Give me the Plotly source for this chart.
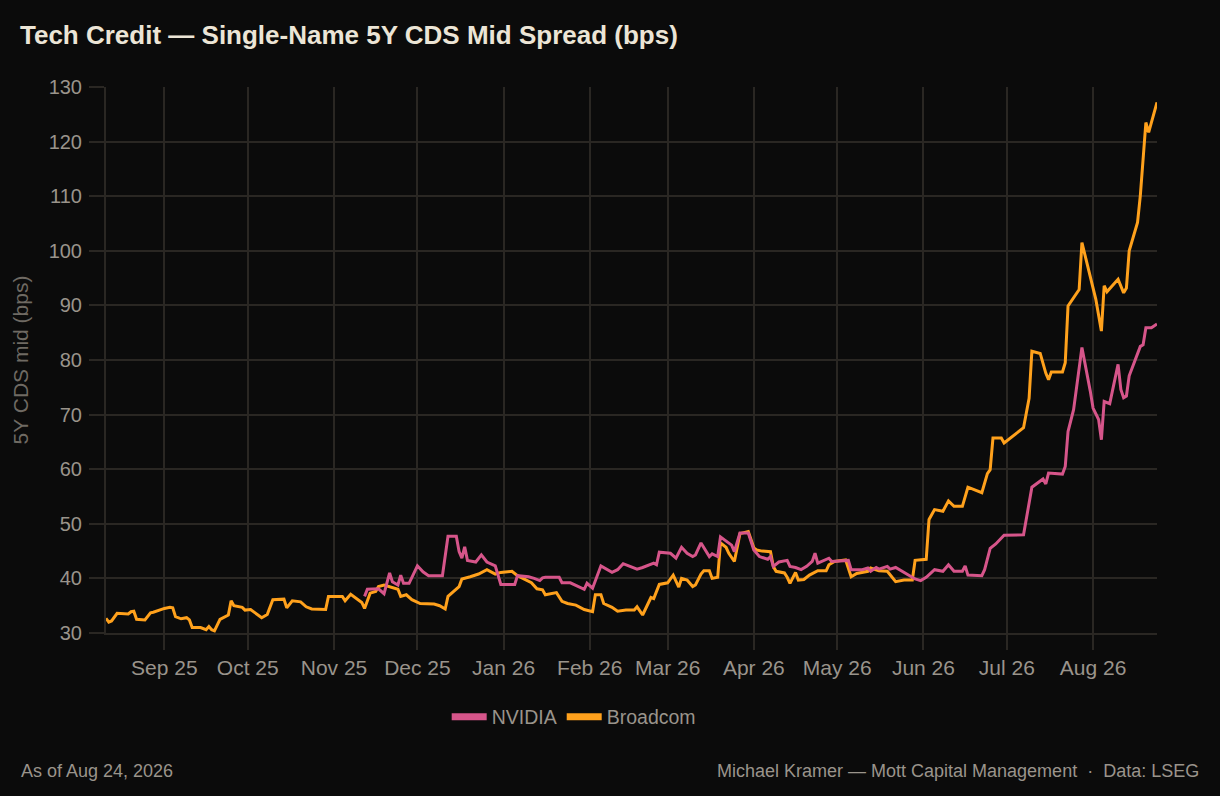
import plotly.graph_objects as go

# Broadcom 5Y CDS mid (bps)
avgo_dates = [
    "2025-08-11", "2025-08-12", "2025-08-13", "2025-08-15", "2025-08-19", "2025-08-20", "2025-08-21",
    "2025-08-22", "2025-08-25", "2025-08-26", "2025-08-27", "2025-08-28", "2025-08-30", "2025-09-01",
    "2025-09-03", "2025-09-04", "2025-09-05", "2025-09-07", "2025-09-09", "2025-09-10", "2025-09-11",
    "2025-09-14", "2025-09-16", "2025-09-17", "2025-09-18", "2025-09-19", "2025-09-21", "2025-09-23",
    "2025-09-24", "2025-09-25", "2025-09-26", "2025-09-29", "2025-09-30", "2025-10-02", "2025-10-04",
    "2025-10-06", "2025-10-08", "2025-10-10", "2025-10-14", "2025-10-15", "2025-10-17", "2025-10-20",
    "2025-10-22", "2025-10-24", "2025-10-29", "2025-10-30", "2025-11-04", "2025-11-05", "2025-11-07",
    "2025-11-09", "2025-11-11", "2025-11-12", "2025-11-14", "2025-11-16", "2025-11-17", "2025-11-19",
    "2025-11-21", "2025-11-24", "2025-11-25", "2025-11-27", "2025-11-29", "2025-12-02", "2025-12-07",
    "2025-12-09", "2025-12-11", "2025-12-12", "2025-12-16", "2025-12-17", "2025-12-20", "2025-12-23",
    "2025-12-26", "2025-12-29", "2025-12-31", "2026-01-04", "2026-01-06", "2026-01-09", "2026-01-11",
    "2026-01-13", "2026-01-15", "2026-01-16", "2026-01-20", "2026-01-22", "2026-01-24", "2026-01-27",
    "2026-01-30", "2026-02-02", "2026-02-03", "2026-02-05", "2026-02-06", "2026-02-09", "2026-02-11",
    "2026-02-14", "2026-02-17", "2026-02-18", "2026-02-20", "2026-02-23", "2026-02-24", "2026-02-26",
    "2026-03-01", "2026-03-03", "2026-03-05", "2026-03-06", "2026-03-08", "2026-03-10", "2026-03-11",
    "2026-03-13", "2026-03-14", "2026-03-16", "2026-03-17", "2026-03-19", "2026-03-20", "2026-03-22",
    "2026-03-23", "2026-03-25", "2026-03-27", "2026-03-30", "2026-04-01", "2026-04-02", "2026-04-04",
    "2026-04-07", "2026-04-08", "2026-04-09", "2026-04-12", "2026-04-13", "2026-04-14", "2026-04-16",
    "2026-04-17", "2026-04-19", "2026-04-21", "2026-04-24", "2026-04-27", "2026-04-28", "2026-04-30",
    "2026-05-04", "2026-05-06", "2026-05-08", "2026-05-12", "2026-05-13", "2026-05-16", "2026-05-19",
    "2026-05-22", "2026-05-25", "2026-05-28", "2026-05-29", "2026-06-01", "2026-06-02", "2026-06-03",
    "2026-06-05", "2026-06-08", "2026-06-10", "2026-06-12", "2026-06-15", "2026-06-17", "2026-06-22",
    "2026-06-24", "2026-06-25", "2026-06-26", "2026-06-29", "2026-06-30", "2026-07-07", "2026-07-09",
    "2026-07-10", "2026-07-13", "2026-07-15", "2026-07-16", "2026-07-17", "2026-07-21", "2026-07-22",
    "2026-07-23", "2026-07-27", "2026-07-28", "2026-07-30", "2026-08-02", "2026-08-04", "2026-08-05",
    "2026-08-06", "2026-08-10", "2026-08-12", "2026-08-13", "2026-08-14", "2026-08-17", "2026-08-18",
    "2026-08-20", "2026-08-21", "2026-08-24",
]
avgo_bps = [
    32.7, 32.0, 32.2, 33.6, 33.5, 33.9, 34.0,
    32.5, 32.4, 33.1, 33.7, 33.8, 34.2, 34.5,
    34.7, 34.6, 33.0, 32.6, 32.8, 32.4, 31.0,
    31.0, 30.6, 31.2, 30.6, 30.4, 32.5, 33.1,
    33.3, 35.9, 35.0, 34.7, 34.2, 34.3, 33.5,
    32.8, 33.4, 36.1, 36.2, 34.6, 35.9, 35.7,
    34.8, 34.4, 34.3, 36.7, 36.7, 35.9, 37.1,
    36.3, 35.6, 34.5, 37.3, 37.6, 38.5, 38.8,
    38.5, 38.0, 36.7, 37.0, 36.1, 35.4, 35.3,
    35.0, 34.4, 36.7, 38.5, 39.9, 40.3, 40.8,
    41.6, 40.8, 41.1, 41.3, 40.5, 39.7, 39.2,
    38.1, 37.9, 37.0, 37.4, 35.8, 35.4, 35.1,
    34.3, 33.9, 37.0, 37.0, 35.4, 34.7, 34.0,
    34.2, 34.2, 34.8, 33.3, 36.5, 36.3, 38.9,
    39.2, 40.6, 38.4, 40.0, 39.7, 38.5, 38.8,
    40.8, 41.4, 41.4, 40.0, 40.2, 46.5, 45.7,
    44.6, 43.1, 48.2, 48.6, 45.6, 45.2, 45.0,
    44.9, 42.2, 41.3, 41.0, 40.2, 39.1, 41.1,
    39.7, 39.8, 40.6, 41.4, 41.4, 42.5, 43.1,
    43.4, 40.3, 40.9, 41.3, 41.9, 41.4, 41.3,
    39.4, 39.7, 39.7, 43.3, 43.4, 43.5, 50.8,
    52.6, 52.3, 54.2, 53.2, 53.2, 56.7, 55.7,
    59.2, 59.9, 65.7, 65.7, 64.8, 67.6, 73.0,
    81.6, 81.2, 77.6, 76.4, 77.8, 77.8, 79.5,
    89.9, 92.9, 101.5, 97.2, 91.1, 85.3, 93.6,
    92.5, 94.8, 92.3, 93.2, 100.0, 105.2, 110.1,
    123.5, 121.7, 127.2,
]

# NVIDIA 5Y CDS mid (bps)
nvda_dates = [
    "2025-11-12", "2025-11-13", "2025-11-17", "2025-11-19", "2025-11-21", "2025-11-22", "2025-11-24",
    "2025-11-25", "2025-11-26", "2025-11-28", "2025-12-01", "2025-12-03", "2025-12-05", "2025-12-10",
    "2025-12-12", "2025-12-15", "2025-12-16", "2025-12-17", "2025-12-18", "2025-12-19", "2025-12-22",
    "2025-12-24", "2025-12-26", "2025-12-29", "2025-12-31", "2026-01-05", "2026-01-06", "2026-01-10",
    "2026-01-12", "2026-01-14", "2026-01-15", "2026-01-16", "2026-01-21", "2026-01-22", "2026-01-25",
    "2026-01-28", "2026-01-30", "2026-01-31", "2026-02-02", "2026-02-05", "2026-02-07", "2026-02-09",
    "2026-02-11", "2026-02-13", "2026-02-15", "2026-02-18", "2026-02-20", "2026-02-24", "2026-02-25",
    "2026-02-26", "2026-03-02", "2026-03-04", "2026-03-06", "2026-03-08", "2026-03-10", "2026-03-11",
    "2026-03-13", "2026-03-16", "2026-03-17", "2026-03-19", "2026-03-20", "2026-03-24", "2026-03-25",
    "2026-03-27", "2026-03-30", "2026-04-01", "2026-04-03", "2026-04-06", "2026-04-07", "2026-04-08",
    "2026-04-10", "2026-04-13", "2026-04-14", "2026-04-16", "2026-04-18", "2026-04-20", "2026-04-22",
    "2026-04-23", "2026-04-24", "2026-04-26", "2026-04-28", "2026-04-29", "2026-05-05", "2026-05-06",
    "2026-05-10", "2026-05-12", "2026-05-13", "2026-05-15", "2026-05-16", "2026-05-19", "2026-05-20",
    "2026-05-22", "2026-05-24", "2026-05-27", "2026-05-29", "2026-05-31", "2026-06-02", "2026-06-05",
    "2026-06-08", "2026-06-10", "2026-06-12", "2026-06-15", "2026-06-16", "2026-06-17", "2026-06-22",
    "2026-06-23", "2026-06-25", "2026-06-27", "2026-06-28", "2026-06-30", "2026-07-07", "2026-07-08",
    "2026-07-10", "2026-07-14", "2026-07-15", "2026-07-16", "2026-07-21", "2026-07-22", "2026-07-23",
    "2026-07-25", "2026-07-27", "2026-07-28", "2026-07-31", "2026-08-01", "2026-08-03", "2026-08-04",
    "2026-08-05", "2026-08-07", "2026-08-10", "2026-08-11", "2026-08-12", "2026-08-13", "2026-08-14",
    "2026-08-17", "2026-08-18", "2026-08-19", "2026-08-20", "2026-08-22", "2026-08-24",
]
nvda_bps = [
    36.7, 38.0, 38.1, 37.2, 41.0, 39.4, 38.8,
    40.6, 39.1, 39.1, 42.3, 41.2, 40.5, 40.5,
    47.7, 47.7, 44.9, 43.7, 45.8, 43.3, 43.0,
    44.3, 43.0, 42.3, 38.9, 38.9, 40.5, 40.3,
    40.0, 39.6, 40.1, 40.2, 40.2, 39.2, 39.2,
    38.5, 38.0, 39.1, 38.2, 42.3, 41.7, 41.1,
    41.6, 42.7, 42.3, 41.7, 42.0, 42.8, 42.5,
    44.8, 44.6, 43.7, 45.7, 44.6, 44.0, 44.3,
    46.5, 44.0, 44.5, 44.0, 47.6, 46.1, 44.9,
    48.3, 48.3, 45.2, 44.0, 43.5, 44.0, 42.2,
    43.0, 43.3, 42.2, 42.0, 41.6, 42.2, 43.1,
    44.6, 42.8, 43.2, 43.7, 43.1, 43.3, 41.6,
    41.6, 41.9, 41.3, 42.0, 41.7, 42.2, 41.7,
    42.0, 41.4, 40.6, 39.9, 39.6, 40.2, 41.6,
    41.3, 42.5, 41.3, 41.3, 42.3, 40.6, 40.5,
    41.6, 45.5, 46.3, 46.9, 47.9, 48.0, 50.7,
    56.7, 58.2, 57.3, 59.3, 59.1, 60.5, 66.9,
    70.9, 78.5, 82.3, 74.3, 71.2, 69.1, 65.4,
    72.4, 72.0, 79.2, 74.6, 73.1, 73.4, 77.1,
    81.3, 82.5, 82.8, 85.9, 85.9, 86.6,
]

y_ticks = [30, 40, 50, 60, 70, 80, 90, 100, 110, 120, 130]

bg = "#0b0b0b"
grid = "#2a2723"
muted = "#9a948b"
nvda_color = "#d6558a"
avgo_color = "#ffa11c"
font = "'Liberation Sans', Arial, sans-serif"

fig = go.Figure()
# Broadcom drawn first so NVIDIA sits on top where they overlap
fig.add_trace(go.Scatter(x=avgo_dates, y=avgo_bps, name="Broadcom", mode="lines",
                         line=dict(color=avgo_color, width=3), showlegend=False))
fig.add_trace(go.Scatter(x=nvda_dates, y=nvda_bps, name="NVIDIA", mode="lines",
                         line=dict(color=nvda_color, width=3), showlegend=False))
# legend keys (thick swatches like the original)
fig.add_trace(go.Scatter(x=[None], y=[None], name="NVIDIA", mode="lines",
                         line=dict(color=nvda_color, width=7)))
fig.add_trace(go.Scatter(x=[None], y=[None], name="Broadcom", mode="lines",
                         line=dict(color=avgo_color, width=7)))

fig.update_layout(
    width=1220, height=796,
    paper_bgcolor=bg, plot_bgcolor=bg,
    font=dict(family=font, color=muted, size=20),
    margin=dict(l=106, r=63, t=87, b=163),
    title=dict(text="<b>Tech Credit — Single-Name 5Y CDS Mid Spread (bps)</b>",
               x=0.0164, xanchor="left", y=0.956, yanchor="middle",
               font=dict(family=font, size=26, color="#ece5d6")),
    legend=dict(orientation="h", x=0.445, xanchor="center", y=-0.154, yanchor="middle",
                font=dict(size=19.5, color=muted), bgcolor="rgba(0,0,0,0)",
                itemwidth=35),
    showlegend=True,
)

fig.update_xaxes(
    tickformat="%b %y", dtick="M1", tick0="2025-09-01",
    showgrid=True, gridcolor=grid, gridwidth=2,
    ticks="outside", ticklen=15, tickcolor=grid, tickwidth=2,
    showline=True, linecolor=grid, linewidth=2,
    tickfont=dict(size=21, color=muted), zeroline=False,
)
fig.update_yaxes(
    range=[30, 130], tickvals=y_ticks,
    title=dict(text="5Y CDS mid (bps)", font=dict(size=21, color="#6f6a63"), standoff=14),
    showgrid=True, gridcolor=grid, gridwidth=2,
    ticks="outside", ticklen=15, tickcolor=grid, tickwidth=2, ticklabelstandoff=3,
    showline=True, linecolor=grid, linewidth=2,
    tickfont=dict(size=20, color=muted), zeroline=False,
)

fig.add_annotation(text="As of Aug 24, 2026", xref="paper", yref="paper",
                   x=-0.0828, xanchor="left", y=-0.253, yanchor="middle", showarrow=False,
                   font=dict(size=18, color=muted))
fig.add_annotation(text="Michael Kramer — Mott Capital Management  ·  Data: LSEG",
                   xref="paper", yref="paper", x=1.0419, xanchor="right", y=-0.253,
                   yanchor="middle", showarrow=False, font=dict(size=18, color=muted))

fig.write_html("out.html", config={"displayModeBar": False},
               post_script="document.body.style.margin='0';document.body.style.background='#0b0b0b';")
